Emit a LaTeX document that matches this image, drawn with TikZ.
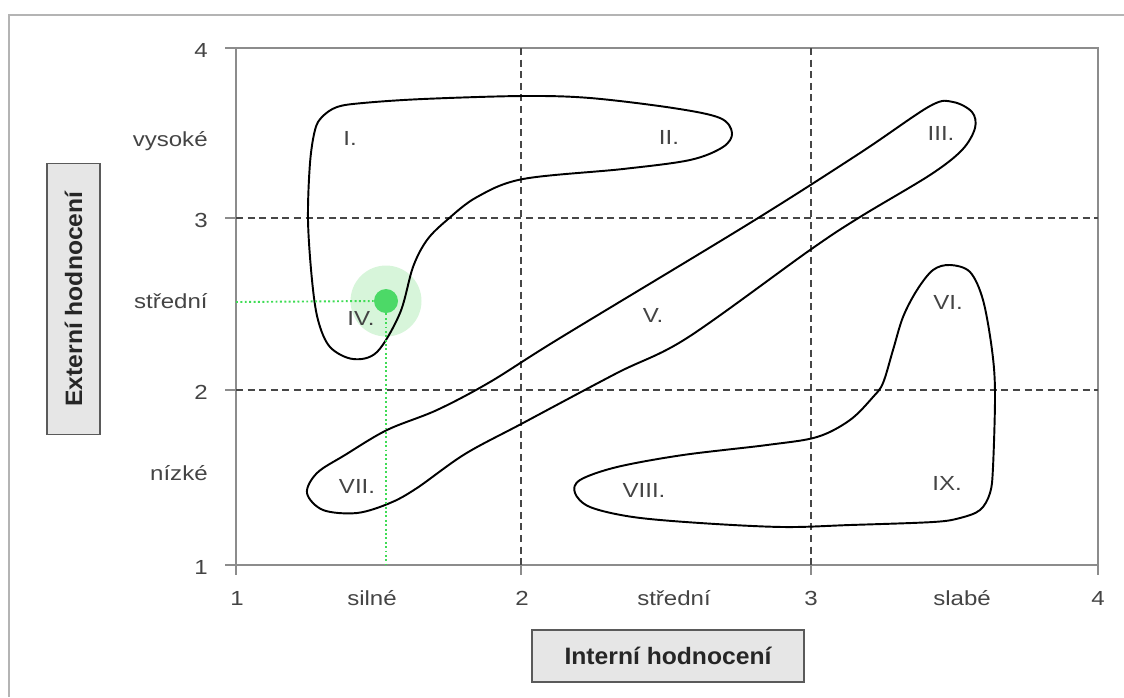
\documentclass[tikz,border=0pt]{standalone}
\usepackage{fontspec}
\setmainfont{Liberation Sans}
\newfontfamily\tickfont{Liberation Sans}[FakeStretch=1.18]
\newfontfamily\titlefont{Liberation Sans}[FakeStretch=1.04]
\definecolor{labelgray}{HTML}{444444}
\definecolor{axisgray}{HTML}{8C8C8C}
\definecolor{gridgray}{HTML}{474747}
\definecolor{framegray}{HTML}{B4B4B4}
\definecolor{boxfill}{HTML}{E6E6E6}
\definecolor{boxborder}{HTML}{5A5A5A}
\definecolor{dotgreen}{HTML}{4CD967}
\definecolor{halogreen}{HTML}{D7F5DA}
\definecolor{guidegreen}{HTML}{3FDC55}

\begin{document}
\begin{tikzpicture}[x=0.02cm, y=-0.02cm,
    every node/.style={font=\tickfont\fontsize{11.6}{13}\selectfont, text=labelgray, inner sep=0pt},
    axisline/.style={draw=axisgray, line width=0.6pt},
    gridline/.style={draw=gridgray, line width=0.6pt, dash pattern=on 4pt off 2.6pt},
    zone/.style={draw=black, line width=1.1pt},
    titlebox/.style={draw=boxborder, fill=boxfill, line width=0.8pt,
      font=\titlefont\bfseries\fontsize{13.5}{15}\selectfont, text=black!85},
    guide/.style={draw=guidegreen, line width=1.1pt, dash pattern=on 1.1pt off 1.4pt}]
  \useasboundingbox (0,0) rectangle (1124,697);
  % outer frame
  \draw[framegray, line width=0.9pt] (9,697) -- (9,15) -- (1124,15);

  % highlighted position
  \node[circle, fill=halogreen, minimum size=1.42cm] (halo) at (386,301) {};

  % axes and ticks
  \draw[axisline] (225,48) -- (1098,48) -- (1098,565) -- (225,565);
  \draw[axisline] (236,48) -- (236,575);
  \foreach \ty in {218,390}
    \draw[axisline] (225,\ty) -- (236,\ty);
  \foreach \tx in {521,811,1098}
    \draw[axisline] (\tx,565) -- (\tx,575);

  % grid
  \draw[gridline] (521,48) -- (521,565);
  \draw[gridline] (811,48) -- (811,565);
  \draw[gridline] (236,218) -- (1098,218);
  \draw[gridline] (236,390) -- (1098,390);

  % y labels
  \node[anchor=base east] (y4) at (208,57) {4};
  \node[anchor=base east] (yhigh) at (208,146) {vysoké};
  \node[anchor=base east] (y3) at (208,227) {3};
  \node[anchor=base east] (ymid) at (208,308) {střední};
  \node[anchor=base east] (y2) at (208,399) {2};
  \node[anchor=base east] (ylow) at (208,480) {nízké};
  \node[anchor=base east] (y1) at (208,574) {1};

  % x labels
  \node[anchor=base] (x1) at (237,605) {1};
  \node[anchor=base] (xstrong) at (372,605) {silné};
  \node[anchor=base] (x2) at (522,605) {2};
  \node[anchor=base] (xmid) at (674,605) {střední};
  \node[anchor=base] (x3) at (811,605) {3};
  \node[anchor=base] (xweak) at (962,605) {slabé};
  \node[anchor=base] (x4) at (1098,605) {4};

  % axis titles
  \node[titlebox, minimum width=5.44cm, minimum height=1.04cm] (inttitle) at (668,656) {Interní hodnocení};
  \node[titlebox, rotate=90, minimum width=5.42cm, minimum height=1.06cm] (exttitle) at (73.5,299) {Externí hodnocení};

  % zones
  \draw[zone] plot[smooth cycle, tension=0.55] coordinates {
    (363,103) (423,99) (523,96) (590,98) (673,108) (720,118) (732,133)
    (723,147) (690,160) (623,169) (523,179) (477,197) (447,220) (427,240)
    (413,267) (400,313) (377,352) (353,359) (330,347) (318,320) (312,280)
    (308,220) (310,163) (315,130) (322,117) (337,107)};
  \draw[zone] plot[smooth cycle, tension=0.55] coordinates {
    (953,102) (972,112) (975,128) (962,150) (930,175) (860,217) (810,250)
    (687,338) (617,373) (523,423) (465,454) (417,488) (390,503) (357,513)
    (323,510) (307,493) (317,473) (345,455) (387,430) (437,410) (490,382)
    (560,338) (750,223) (860,153) (930,106)};
  \draw[zone] plot[smooth cycle, tension=0.55] coordinates {
    (950,265) (970,272) (983,300) (992,350) (995,393) (993,467) (990,493)
    (980,510) (960,518) (933,522) (850,525) (783,527) (700,523) (633,517)
    (590,507) (575,493) (580,480) (617,467) (683,455) (767,445) (817,437)
    (850,420) (873,397) (883,383) (893,350) (903,317) (917,290) (933,270)};

  % zone labels
  \node (zI) at (350,138) {I.};
  \node (zII) at (669,137) {II.};
  \node (zIII) at (941,133) {III.};
  \node (zIV) at (361,318) {IV.};
  \node (zV) at (653,315) {V.};
  \node (zVI) at (948,302) {VI.};
  \node (zVII) at (357,486) {VII.};
  \node (zVIII) at (644,490) {VIII.};
  \node (zIX) at (947,483) {IX.};

  % position marker and guides
  \node[circle, fill=dotgreen, minimum size=0.48cm] (pos) at (386,301) {};
  \coordinate (posy) at (236,302);
  \coordinate (posx) at (386,565);
  \draw[guide] (posy) -- (pos.west);
  \draw[guide] (pos.south) -- (posx);
\end{tikzpicture}
\end{document}
